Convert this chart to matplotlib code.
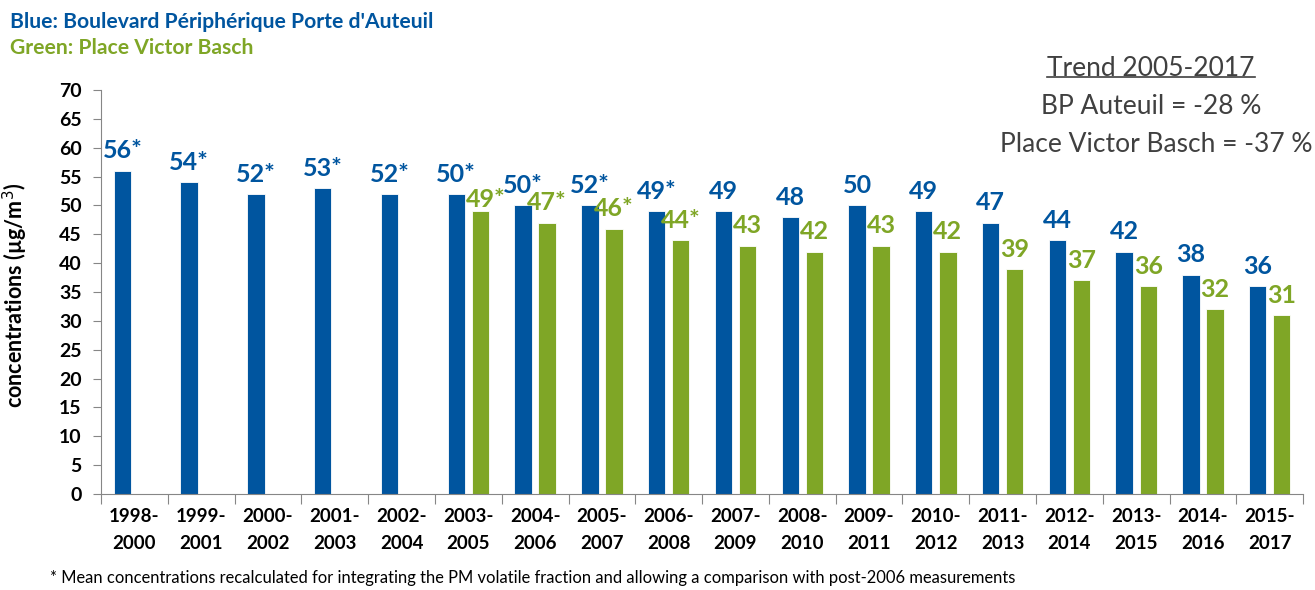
import matplotlib
matplotlib.use("Agg")
import matplotlib.pyplot as plt
import numpy as np
from matplotlib.lines import Line2D

periods = ["1998-\n2000", "1999-\n2001", "2000-\n2002", "2001-\n2003", "2002-\n2004",
           "2003-\n2005", "2004-\n2006", "2005-\n2007", "2006-\n2008", "2007-\n2009",
           "2008-\n2010", "2009-\n2011", "2010-\n2012", "2011-\n2013", "2012-\n2014",
           "2013-\n2015", "2014-\n2016", "2015-\n2017"]
auteuil = [56, 54, 52, 53, 52, 52, 50, 50, 49, 49, 48, 50, 49, 47, 44, 42, 38, 36]
auteuil_labels = ["56*", "54*", "52*", "53*", "52*", "50*", "50*", "52*", "49*", "49",
                  "48", "50", "49", "47", "44", "42", "38", "36"]
basch = [None, None, None, None, None, 49, 47, 46, 44, 43, 42, 43, 42, 39, 37, 36, 32, 31]
basch_labels = ["", "", "", "", "", "49*", "47*", "46*", "44*", "43", "42", "43", "42",
                "39", "37", "36", "32", "31"]

BLUE = "#00559f"
GREEN = "#7fa626"
FONT = "Lato"

fig = plt.figure(figsize=(13.15, 5.9), dpi=100)
ax = fig.add_axes([0.0768, 0.1627, 0.9142, 0.6848])

x = np.arange(len(periods))
w = 0.26
off = 0.18
ax.bar(x - off, auteuil, width=w, color=BLUE, edgecolor="white", linewidth=0.6)
gx = [i for i, v in zip(x, basch) if v is not None]
gv = [v for v in basch if v is not None]
ax.bar(np.array(gx) + off, gv, width=w, color=GREEN, edgecolor="white", linewidth=0.6)

for i, (v, lab) in enumerate(zip(auteuil, auteuil_labels)):
    ax.annotate(lab, (i - off, v), xytext=(0, 6), textcoords="offset points",
                ha="center", va="bottom", color=BLUE, fontsize=18,
                fontweight="bold", family=FONT)
for i, (v, lab) in enumerate(zip(basch, basch_labels)):
    if v is None:
        continue
    dx, dy = (4, 0) if i == 5 else (0, 6)
    ax.annotate(lab, (i + off, v), xytext=(dx, dy), textcoords="offset points",
                ha="center", va="bottom", color=GREEN, fontsize=18,
                fontweight="bold", family=FONT)

ax.set_xlim(-0.5, len(periods) - 0.5)
ax.set_ylim(0, 70)
ax.set_yticks(range(0, 71, 5))
ax.set_xticks(np.arange(len(periods) + 1) - 0.5)
ax.set_xticklabels([])
ax.set_xticks(x, minor=True)
ax.set_xticklabels(periods, minor=True, fontsize=13.5, fontweight="bold",
                   family=FONT, linespacing=1.7)
ax.tick_params(axis="x", which="minor", length=0, pad=10)
ax.tick_params(axis="x", which="major", length=7, color="#868686", direction="out")
ax.tick_params(axis="y", length=6, color="#868686", labelsize=14, pad=8)
for t in ax.get_yticklabels():
    t.set_fontweight("bold")
    t.set_family(FONT)
for s in ["top", "right"]:
    ax.spines[s].set_visible(False)
for s in ["left", "bottom"]:
    ax.spines[s].set_color("#868686")

fig.text(15 / 1315, 1 - 295 / 590, "concentrations (µg/m$^3$)", rotation=90,
         fontsize=15.5, fontweight="bold", family=FONT, ha="center", va="center")

fig.text(10 / 1315, 1 - 22 / 590, "Blue: Boulevard Périphérique Porte d'Auteuil",
         color=BLUE, fontsize=15.2, fontweight="bold", family=FONT, va="center")
fig.text(10 / 1315, 1 - 48 / 590, "Green: Place Victor Basch",
         color=GREEN, fontsize=15.2, fontweight="bold", family=FONT, va="center")

gray = "#404040"
tr = fig.text(1151 / 1315, 1 - 68 / 590, "Trend 2005-2017", color=gray, fontsize=19,
              family=FONT, ha="center", va="center")
fig.text(1151 / 1315, 1 - 106 / 590, "BP Auteuil = -28 %", color=gray, fontsize=19,
         family=FONT, ha="center", va="center")
fig.text(1312 / 1315, 1 - 145 / 590, "Place Victor Basch = -37 %", color=gray,
         fontsize=19, family=FONT, ha="right", va="center")

fig.text(50 / 1315, 1 - 578 / 590,
         "* Mean concentrations recalculated for integrating the PM volatile fraction "
         "and allowing a comparison with post-2006 measurements",
         fontsize=11.9, family=FONT, va="center")

fig.canvas.draw()
bb = tr.get_window_extent().transformed(fig.transFigure.inverted())
fig.add_artist(Line2D([bb.x0, bb.x1], [bb.y0 + 0.006, bb.y0 + 0.006],
                      color=gray, linewidth=1.2, transform=fig.transFigure))

fig.savefig("out.png", dpi=100)
